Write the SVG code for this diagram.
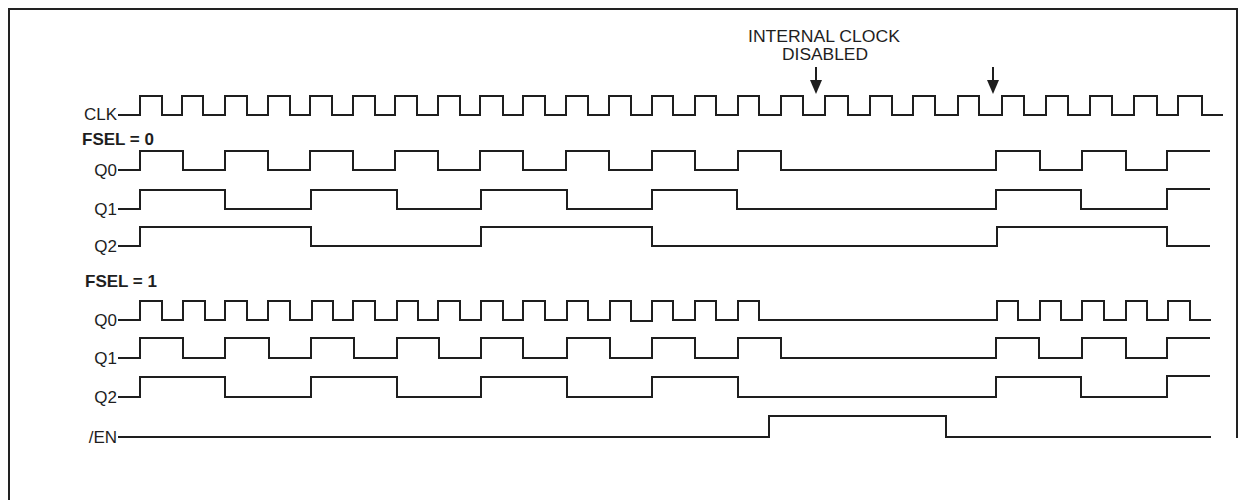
<svg xmlns="http://www.w3.org/2000/svg" width="1246" height="500" viewBox="0 0 1246 500">
<style>
.w{fill:none;stroke:#1e1e1e;stroke-width:2;stroke-linejoin:miter;stroke-linecap:butt}
.t{font-family:"Liberation Sans",Arial,sans-serif;font-size:17px;fill:#1e1e1e}
.l{text-anchor:end}
.b{font-weight:bold}
.n{font-size:16px;text-anchor:middle}
</style>
<defs>
<marker id="ah" viewBox="0 0 12 14" refX="6" refY="14" markerWidth="12" markerHeight="14" markerUnits="userSpaceOnUse" orient="auto-start-reverse">
<path d="M0,0 L12,0 L6,14 Z" fill="#1e1e1e"/>
</marker>
</defs>
<rect width="1246" height="500" fill="#fff"/>
<path d="M9,500 V9 H1237 V438" fill="none" stroke="#222" stroke-width="2"/>

<g id="note">
<text class="t n" x="824" y="42" textLength="152" lengthAdjust="spacingAndGlyphs">INTERNAL CLOCK</text>
<text class="t n" x="825" y="60" textLength="86" lengthAdjust="spacingAndGlyphs">DISABLED</text>
</g>

<g id="connectors">
<line x1="816" y1="67" x2="816" y2="80" stroke="#1e1e1e" stroke-width="2"/>
<path d="M810,80 L822,80 L816,94 Z" fill="#1e1e1e"/>
<line x1="993" y1="67" x2="993" y2="80" stroke="#1e1e1e" stroke-width="2"/>
<path d="M987,80 L999,80 L993,94 Z" fill="#1e1e1e"/>
</g>

<g id="clk">
<text class="t l" x="117" y="120">CLK</text>
<path class="w" d="M118,115 H140 V96 H162 V115 H182 V96 H203 V115 H225 V96 H247 V115 H268 V96 H290 V115 H310 V96 H332 V115 H353 V96 H375 V115 H395 V96 H417 V115 H438 V96 H460 V115 H480 V96 H503 V115 H523 V96 H545 V115 H566 V96 H588 V115 H609 V96 H631 V115 H652 V96 H673 V115 H695 V96 H716 V115 H738 V96 H759 V115 H781 V96 H803 V115 H825 V96 H848 V115 H870 V96 H892 V115 H913 V96 H935 V115 H958 V96 H979 V115 H1002 V96 H1024 V115 H1046 V96 H1068 V115 H1090 V96 H1112 V115 H1134 V96 H1157 V115 H1178 V96 H1202 V115 H1223"/>
</g>

<g id="fsel0">
<text class="t b" x="82" y="145">FSEL = 0</text>
</g>

<g id="q0-fsel0">
<text class="t l" x="117" y="176">Q0</text>
<path class="w" d="M118,170 H140 V151 H183 V170 H225 V151 H268 V170 H310 V151 H353 V170 H395 V151 H438 V170 H480 V151 H523 V170 H566 V151 H609 V170 H652 V151 H695 V170 H738 V151 H781 V170 H996 V151 H1040 V170 H1082 V151 H1126 V170 H1167 V151 H1210"/>
</g>

<g id="q1-fsel0">
<text class="t l" x="117" y="215">Q1</text>
<path class="w" d="M118,209 H140 V190 H225 V209 H311 V190 H397 V209 H481 V190 H567 V209 H652 V190 H737 V209 H996 V190 H1081 V209 H1167 V189 H1210"/>
</g>

<g id="q2-fsel0">
<text class="t l" x="117" y="252">Q2</text>
<path class="w" d="M118,246 H140 V227 H311 V246 H481 V227 H652 V246 H997 V227 H1167 V246 H1210"/>
</g>

<g id="fsel1">
<text class="t b" x="85" y="287">FSEL = 1</text>
</g>

<g id="q0-fsel1">
<text class="t l" x="117" y="326">Q0</text>
<path class="w" d="M118,320 H140 V301 H162 V320 H183 V301 H205 V320 H225 V301 H247 V320 H268 V301 H290 V320 H312 V301 H333 V320 H353 V301 H375 V320 H397 V301 H418 V320 H438 V301 H460 V320 H481 V301 H503 V320 H523 V301 H545 V320 H567 V301 H588 V320 H610 V301 H631 V321 H652 V301 H673 V320 H695 V301 H716 V320 H738 V301 H759 V320 H997 V301 H1018 V320 H1040 V301 H1061 V320 H1082 V301 H1104 V320 H1126 V301 H1147 V320 H1168 V301 H1190 V320 H1211"/>
</g>

<g id="q1-fsel1">
<text class="t l" x="117" y="364">Q1</text>
<path class="w" d="M118,358 H140 V338 H183 V358 H225 V338 H269 V358 H311 V338 H354 V358 H397 V338 H439 V358 H481 V338 H523 V358 H567 V338 H610 V358 H652 V338 H695 V358 H738 V338 H781 V358 H996 V338 H1039 V358 H1082 V338 H1126 V358 H1167 V338 H1210"/>
</g>

<g id="q2-fsel1">
<text class="t l" x="117" y="403">Q2</text>
<path class="w" d="M118,397 H140 V377 H225 V397 H311 V377 H397 V397 H481 V377 H567 V397 H652 V377 H738 V397 H996 V377 H1081 V397 H1167 V376 H1210"/>
</g>

<g id="en">
<text class="t l" x="117" y="443">/EN</text>
<path class="w" d="M118,437 H769 V416 H946 V437 H1211"/>
</g>
</svg>
